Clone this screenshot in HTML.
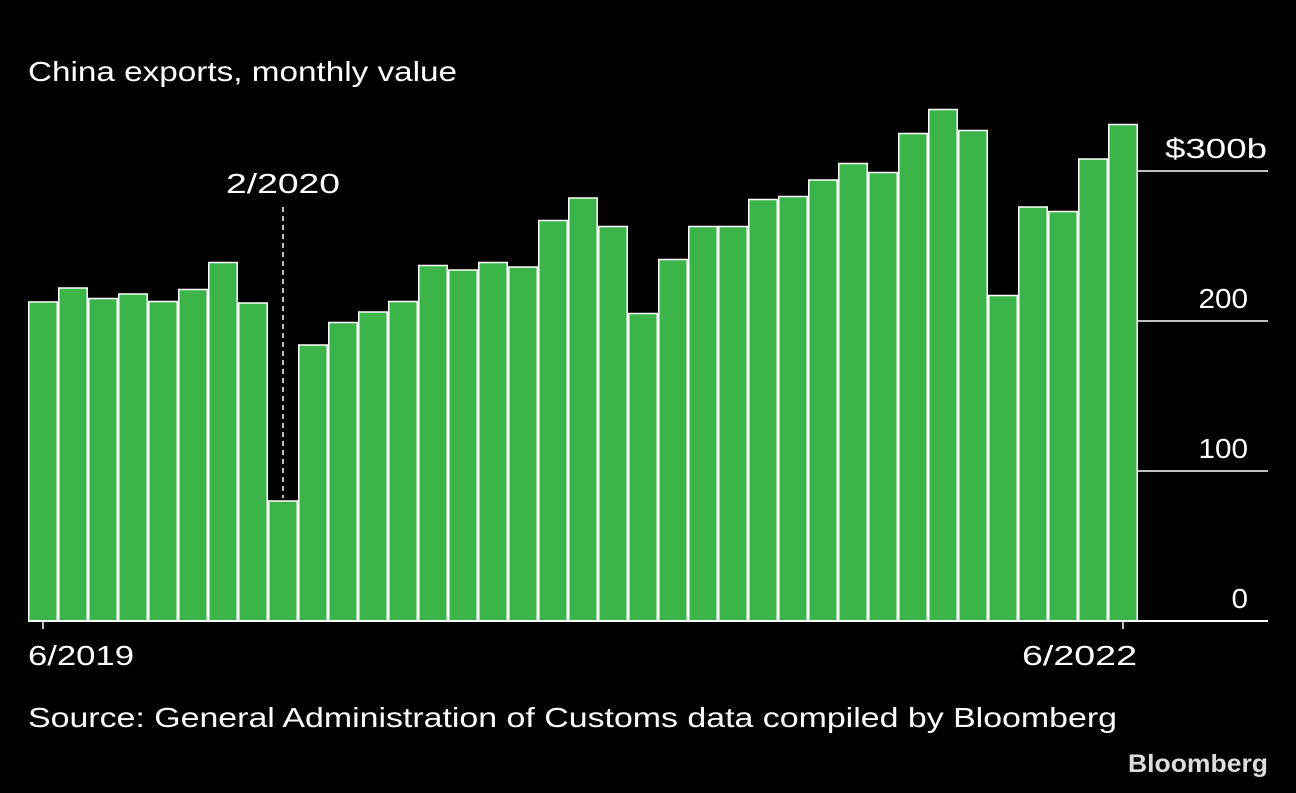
<!DOCTYPE html>
<html><head><meta charset="utf-8"><style>
body{margin:0;background:#000;width:1296px;height:788px;overflow:hidden;font-family:"Liberation Sans",sans-serif;color:#fff}
</style></head><body>
<svg width="1296" height="788">
<text x="28" y="81" fill="#fff" font-size="28" textLength="429" lengthAdjust="spacingAndGlyphs">China exports, monthly value</text>
<g id="grid"></g>
<g id="bars"></g>
<g id="axes"></g>
<text x="28" y="727" fill="#fff" font-size="28" textLength="1089" lengthAdjust="spacingAndGlyphs">Source: General Administration of Customs data compiled by Bloomberg</text>
<text x="1128" y="772" fill="#ddd" font-size="25" font-weight="bold" textLength="140" lengthAdjust="spacingAndGlyphs">Bloomberg</text>
</svg>
<script>
const values=[212.7,222,215,218,213,221,239,212,80,184,199,206,213,237,234,239,236,267,282,263,205,241,263,263,281,283,294,305,299,325,341,327,217,276,273,308,331];
const yTicks=[0,100,200,300];
const yTickLabels=["0","100","200","$300b"];
const xLabels=[{i:0,t:"6/2019"},{i:36,t:"6/2022"}];
const annotation={i:8,t:"2/2020"};
const NS="http://www.w3.org/2000/svg";
const x0=28,bw=30,y0=621,k=1.5;
const xs=i=>x0+i*bw, ys=v=>y0-v*k;
function mk(tag,a,p){const e=document.createElementNS(NS,tag);for(const n in a)e.setAttribute(n,a[n]);p.appendChild(e);return e;}
const g=document.getElementById('grid'),b=document.getElementById('bars'),ax=document.getElementById('axes');
yTicks.forEach((t,j)=>{
 const l=mk('line',{x1:xs(values.length),x2:1268,y1:ys(t),y2:ys(t),stroke:'#fff','stroke-width':1.5},g);
 
 
 const lab=yTickLabels[j];
 const isTop=lab.indexOf('$')===0;
 const tx=mk('text',{x:isTop?1165:1248,y:ys(t)-13,fill:'#fff','font-size':28,'text-anchor':isTop?'start':'end'},g);
 if(isTop){tx.setAttribute('textLength',102);tx.setAttribute('lengthAdjust','spacingAndGlyphs');}
 else{tx.setAttribute('textLength',lab.length*16.5);tx.setAttribute('lengthAdjust','spacingAndGlyphs');}
 tx.textContent=lab;
 
 
});
values.forEach((v,i)=>{
 const r=mk('rect',{x:xs(i)+0.75,y:ys(v),width:bw-1.5,height:v*k,fill:'#3bb54a',stroke:'#fff','stroke-width':1.5},b);
 
 
});
const bl=mk('line',{x1:28,x2:1268,y1:y0,y2:y0,stroke:'#fff','stroke-width':2},ax);


xLabels.forEach(o=>{
 const cx=xs(o.i)+bw/2;
 const t=mk('line',{x1:cx,x2:cx,y1:y0,y2:y0+8,stroke:'#fff','stroke-width':1.5},ax);
 
 
 const tx=mk('text',{x:o.i===0?28:1022,y:665,fill:'#fff','font-size':28,textLength:o.i===0?106:115,lengthAdjust:'spacingAndGlyphs'},ax);
 tx.textContent=o.t;
 
 
});
const acx=xs(annotation.i)+bw/2;
const al=mk('line',{x1:acx,x2:acx,y1:207,y2:ys(values[annotation.i])-3,stroke:'#fff','stroke-width':1.5,'stroke-dasharray':'5,4'},ax);


const at=mk('text',{x:acx-57,y:193,fill:'#fff','font-size':28,textLength:114,lengthAdjust:'spacingAndGlyphs'},ax);
at.textContent=annotation.t;


</script>
</body></html>
